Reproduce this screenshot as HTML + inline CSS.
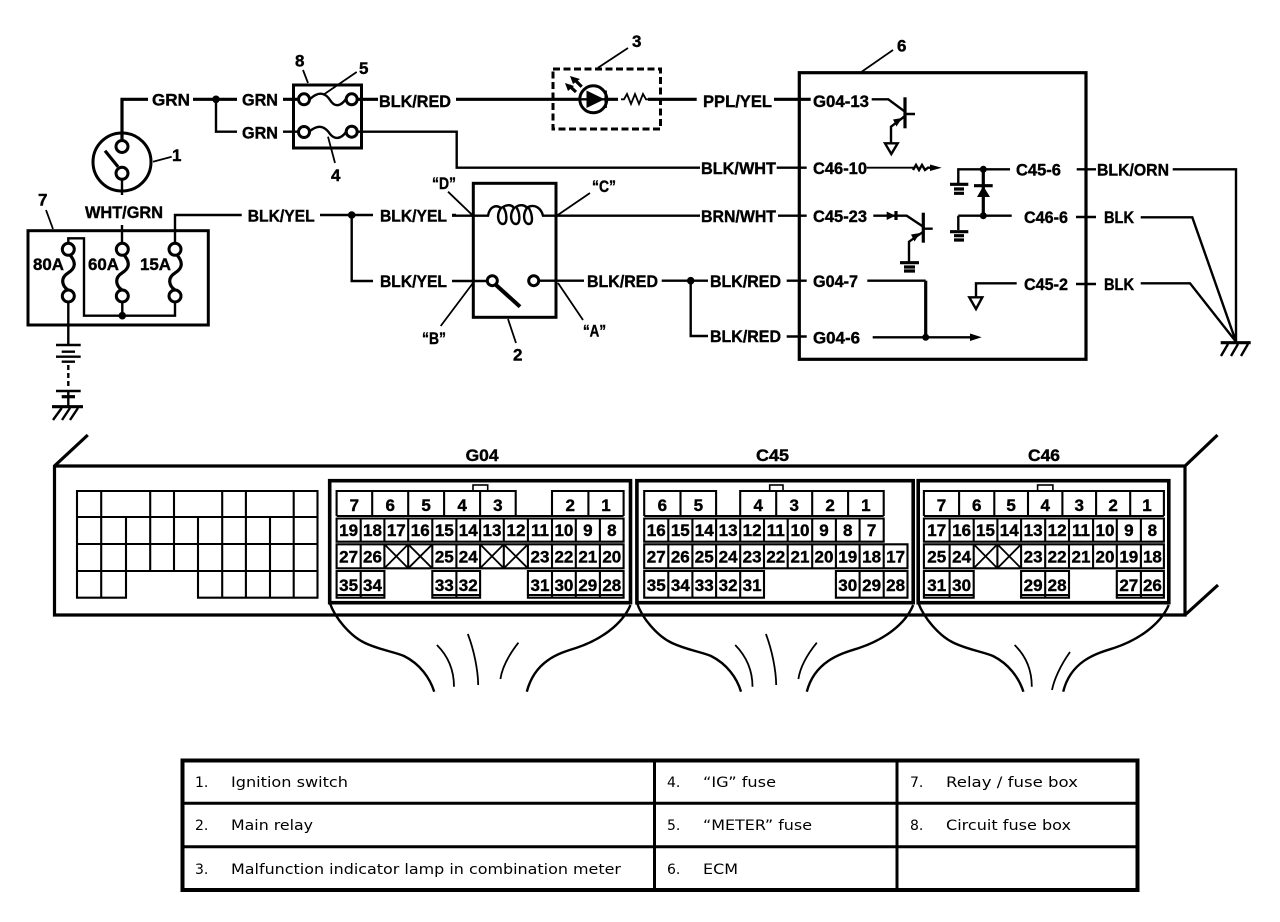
<!DOCTYPE html>
<html><head><meta charset="utf-8"><style>
html,body{margin:0;padding:0;background:#fff}
svg{display:block}
text{font-family:"Liberation Sans",Arial,Helvetica,sans-serif;font-weight:700;font-size:17px;fill:#000;stroke:#000;stroke-width:.4}
.n{text-anchor:middle}
.t{font-family:"DejaVu Sans",sans-serif;font-weight:400;font-size:14px;stroke:none}
.w{fill:none;stroke:#000;stroke-width:2.4}
.h{fill:none;stroke:#000;stroke-width:3.2}
.l{fill:none;stroke:#000;stroke-width:1.8}
.g{fill:none;stroke:#000;stroke-width:2.1}
.c{fill:#fff;stroke:#000;stroke-width:3}
.b{fill:#000;stroke:none}
</style></head><body>
<svg width="1280" height="922" viewBox="0 0 1280 922" xmlns="http://www.w3.org/2000/svg">
<rect width="1280" height="922" fill="#fff"/>

<!-- ignition switch -->
<circle cx="122" cy="162" r="29" fill="#fff" stroke="#000" stroke-width="3"/>
<path class="h" d="M122 141V99.3H148M193 99.3H237M283 99.3H298"/>
<path class="w" d="M216 99.3V131.7H237M283 131.7H298"/>
<circle class="b" cx="216" cy="99.3" r="3.8"/>
<circle class="c" cx="122" cy="146.5" r="6"/>
<circle class="c" cx="122" cy="173.3" r="6"/>
<path class="h" d="M105 150.7L118 166.7"/>
<path class="w" d="M122 179.5V195M122 225V243"/>
<path class="l" d="M171.7 156.7L153 161.7"/>
<text x="172" y="161">1</text>
<text x="152" y="105.5" textLength="38" lengthAdjust="spacingAndGlyphs">GRN</text>
<text x="242" y="105.5" textLength="36" lengthAdjust="spacingAndGlyphs">GRN</text>
<text x="242" y="138.5" textLength="36" lengthAdjust="spacingAndGlyphs">GRN</text>
<text x="85" y="218" textLength="78" lengthAdjust="spacingAndGlyphs">WHT/GRN</text>

<!-- fuse box 8 -->
<rect x="293.5" y="85" width="68" height="63" fill="none" stroke="#000" stroke-width="3"/>
<circle class="c" cx="304" cy="99.3" r="5.5"/>
<circle class="c" cx="351.7" cy="99.3" r="5.5"/>
<circle class="c" cx="304" cy="132" r="5.5"/>
<circle class="c" cx="351.7" cy="131.7" r="5.5"/>
<path class="w" d="M310 99C320 90 326 94 330 100C335 108 341 106 346 99"/>
<path class="w" d="M310 131C320 123 326 128 330 134C335 140 341 139 346 132"/>
<path class="l" d="M303 70L308 83M356.7 72L323 95M335 163L328 136.7"/>
<text x="295" y="66.5">8</text>
<text x="359" y="74">5</text>
<text x="331" y="181">4</text>
<path class="h" d="M357 99.3H378M456 99.3H587M608 99.3H618M648 99.3H696.7"/>
<path class="w" d="M357 131.7H456.7V167.7H700"/>
<text x="379" y="107" textLength="72" lengthAdjust="spacingAndGlyphs">BLK/RED</text>

<!-- lamp 3 -->
<rect x="553" y="69" width="107.5" height="60" fill="none" stroke="#000" stroke-width="3" stroke-dasharray="7 3.5"/>
<circle cx="593.3" cy="99.3" r="13.5" fill="#fff" stroke="#000" stroke-width="3"/>
<path class="b" d="M586.5 90.5L604.5 99.3L586.5 108Z"/>
<path class="w" stroke-width="3" d="M605.7 90.5V108M580 99.3H606"/>
<path class="h" d="M581.7 86.7L575 80M576 92L569 85.5"/>
<path class="b" d="M570 76L580 79L573 84ZM565 83L574 86L568 91Z"/>
<path class="l" d="M621 99.3L624 99.3L627 94L631 104L635 94L639 104L643 94L646 99.3L648 99.3"/>
<path class="l" d="M628 48L598 67.7"/>
<text x="632" y="47">3</text>
<text x="703" y="107" textLength="69" lengthAdjust="spacingAndGlyphs">PPL/YEL</text>
<path class="h" d="M774 99.3H810.7"/>
<path class="w" d="M776.7 167.7H806.7M778 215.7H806.7M786.7 280.7H806.7M786.7 336.5H806.7"/>
<text x="701" y="174" textLength="75" lengthAdjust="spacingAndGlyphs">BLK/WHT</text>
<text x="701" y="222" textLength="75" lengthAdjust="spacingAndGlyphs">BRN/WHT</text>

<!-- ECM 6 -->
<rect x="799.3" y="72.7" width="286.7" height="286.6" fill="none" stroke="#000" stroke-width="3.2"/>
<path class="l" d="M893 50L861.7 71.7"/>
<text x="897" y="51.5">6</text>
<text x="813" y="107" textLength="56" lengthAdjust="spacingAndGlyphs">G04-13</text>
<text x="813" y="174" textLength="54" lengthAdjust="spacingAndGlyphs">C46-10</text>
<text x="813" y="222" textLength="54" lengthAdjust="spacingAndGlyphs">C45-23</text>
<text x="813" y="287" textLength="45" lengthAdjust="spacingAndGlyphs">G04-7</text>
<text x="813" y="343.5" textLength="47" lengthAdjust="spacingAndGlyphs">G04-6</text>
<text x="1016" y="175.5" textLength="45" lengthAdjust="spacingAndGlyphs">C45-6</text>
<text x="1024" y="223" textLength="44" lengthAdjust="spacingAndGlyphs">C46-6</text>
<text x="1024" y="290" textLength="44" lengthAdjust="spacingAndGlyphs">C45-2</text>
<text x="1097" y="175.5" textLength="72" lengthAdjust="spacingAndGlyphs">BLK/ORN</text>
<text x="1104" y="223" textLength="30" lengthAdjust="spacingAndGlyphs">BLK</text>
<text x="1104" y="290" textLength="30" lengthAdjust="spacingAndGlyphs">BLK</text>
<path class="w" d="M1076.7 169.3H1096M1076 217H1096M1076 284H1096"/>
<path class="w" d="M1172.7 169.3H1236V341.7M1140.7 217.3H1192.3L1236 341.7M1140.7 283.3H1190L1236 341.7"/>
<path class="h" d="M1220.7 342.7H1250.7"/>
<path class="w" d="M1228 344L1221 356M1238 344L1231 356M1248 344L1241 356"/>

<!-- transistor 1 -->
<path class="w" d="M871.7 99.3H888.3L905 111.7M915 114H905M905 116L891 126.7V143.3"/>
<path class="h" d="M905 97.3V128.3"/>
<path class="b" d="M893 119.5L902 118L896.5 126.5Z"/>
<path class="w" d="M885 143.3H897.7L891.3 154Z"/>
<!-- C46-10 -->
<path class="l" d="M866.7 167.7H914"/>
<path class="w" d="M913 170L916 165L919 170L922 165L925 170L928 167.7H933"/>
<path class="b" d="M930 164.5L941.7 167.7L930 171Z"/>
<!-- zener -->
<path class="w" d="M958.3 183.3V169.3H1010M958.3 215.7V230M958.3 215.7H1011.7"/>
<path class="h" d="M983.3 169.3V215.7M974 185.7H992.7"/>
<path class="b" d="M983.3 186L990 197H977Z"/>
<circle class="b" cx="983.3" cy="169.3" r="3.5"/>
<circle class="b" cx="983.3" cy="215.7" r="3.5"/>
<path class="h" d="M950 184.3H968.3M954 189H964M954 193.3H964M950 231.7H968.3M954 235.7H964M954 240H964"/>
<!-- transistor 2 -->
<path class="w" d="M873.3 215.7H906.7L923.3 226.7M932.7 228.7H923.3M923.3 231.7L909 241.7V261.7"/>
<path class="h" d="M923.3 212.7V242.7"/>
<path class="b" d="M911 234.5L920 233L914.5 241.5ZM886.7 211.5L895.5 215.7L886.7 220Z"/>
<path class="h" d="M896 211V220"/>
<path class="h" d="M900 262.7H919M904 267H915M904 271H915"/>
<!-- G04-7 / G04-6 -->
<path class="h" d="M925.7 280.7V337.3"/>
<path class="w" d="M867.3 280.7H925.7M872.7 337.3H972"/>
<circle class="b" cx="925.7" cy="337.3" r="3.5"/>
<path class="b" d="M970 333.5L981.7 337.3L970 341Z"/>
<!-- C45-2 -->
<path class="w" d="M1016.7 283.3H976V297.3M969.3 297.3H982.3L976 309Z"/>

<!-- relay 2 -->
<rect x="473.3" y="183.3" width="82.7" height="134" fill="none" stroke="#000" stroke-width="3"/>
<path class="w" d="M452 215.7H488C490 205 497 205 501 208C496 215 498 224 503 224C508 224 507 212 503 207C508 204 512 205 514 208C509 215 511 224 516 224C521 224 520 212 516 207C520 204 525 205 527 208C522 215 524 224 529 224C534 224 532 212 528 207C535 204 541 208 543 215.7H700"/>
<path class="w" d="M452 281H487M539 280.7H584M661.7 280.7H708M690.7 280.7V336H708"/>
<circle class="b" cx="690.7" cy="280.7" r="3.8"/>
<circle class="c" cx="492.3" cy="280.7" r="5"/>
<circle class="c" cx="533.7" cy="280.7" r="5"/>
<path d="M496 285L520 306.7" fill="none" stroke="#000" stroke-width="4"/>
<path class="l" d="M448 191.7L473 215.7M590 193L556.7 215.7M440.7 326L473 283M583 320L558 283M508 319L516 343"/>
<text x="432" y="189" textLength="24" lengthAdjust="spacingAndGlyphs">“D”</text>
<text x="592" y="192" textLength="24" lengthAdjust="spacingAndGlyphs">“C”</text>
<text x="422" y="344" textLength="24" lengthAdjust="spacingAndGlyphs">“B”</text>
<text x="583" y="336.5" textLength="23" lengthAdjust="spacingAndGlyphs">“A”</text>
<text x="513" y="360.5">2</text>
<text x="587" y="287" textLength="71" lengthAdjust="spacingAndGlyphs">BLK/RED</text>
<text x="710" y="287" textLength="71" lengthAdjust="spacingAndGlyphs">BLK/RED</text>
<text x="710" y="342" textLength="71" lengthAdjust="spacingAndGlyphs">BLK/RED</text>

<!-- fuse box 7 -->
<rect x="28" y="230.7" width="180.3" height="94.3" fill="none" stroke="#000" stroke-width="3"/>
<path class="l" d="M46 210L53 229"/>
<text x="38" y="205.5">7</text>
<path class="w" d="M68.3 243V238.3H84V315.7H175V302M122.3 302V315.7M175 243V215H241.7M320 215H373M351.7 215V281H373M452 215H456M68.3 302V345"/>
<circle class="b" cx="122.3" cy="315.7" r="3.8"/>
<circle class="b" cx="351.7" cy="215" r="3.8"/>
<circle class="c" cx="68.3" cy="249.3" r="6"/>
<circle class="c" cx="68.3" cy="296" r="6"/>
<circle class="c" cx="122.3" cy="249.3" r="6"/>
<circle class="c" cx="122.3" cy="296" r="6"/>
<circle class="c" cx="175" cy="249.3" r="6"/>
<circle class="c" cx="175" cy="296" r="6"/>
<path class="h" d="M70 255C76 262 76 268 68 273C60 278 62 286 68 290"/>
<path class="h" d="M124 255C130 262 130 268 122 273C114 278 116 286 122 290"/>
<path class="h" d="M177 255C183 262 183 268 175 273C167 278 169 286 175 290"/>
<text x="33" y="270" textLength="31" lengthAdjust="spacingAndGlyphs">80A</text>
<text x="88" y="270" textLength="31" lengthAdjust="spacingAndGlyphs">60A</text>
<text x="140" y="270" textLength="31" lengthAdjust="spacingAndGlyphs">15A</text>
<text x="247.7" y="221.5" textLength="67" lengthAdjust="spacingAndGlyphs">BLK/YEL</text>
<text x="380" y="221.5" textLength="67" lengthAdjust="spacingAndGlyphs">BLK/YEL</text>
<text x="380" y="287" textLength="67" lengthAdjust="spacingAndGlyphs">BLK/YEL</text>

<!-- battery -->
<path class="w" d="M56 345H80.7M61.7 351.7H75M56 356.7H80.7M61.7 361.7H75M56 391H80.7"/>
<path class="h" d="M61.7 396.7H75"/>
<path class="w" d="M68.3 365V387" stroke-dasharray="5 3"/>
<path class="w" d="M68.3 391V406.7"/>
<path class="h" d="M52 406.7H83"/>
<path class="w" d="M61.7 408L53 420M70 408L62 420M78 408L70 420"/>

<!-- ECU body -->
<path class="h" d="M87.8 435L54.5 466V615H1185V466H54.5M1185 466L1217.5 435M1185 615L1218 585"/>
<text x="465.6" y="461" textLength="33" lengthAdjust="spacingAndGlyphs">G04</text>
<text x="756" y="461" textLength="33" lengthAdjust="spacingAndGlyphs">C45</text>
<text x="1028" y="461" textLength="32" lengthAdjust="spacingAndGlyphs">C46</text>

<!-- left blank grid -->
<path class="g" stroke-width="2.4" d="M77 491H317.5V597.7H198V571H126V597.7H77ZM77 517H317.5M77 544H317.5M77 571H317.5M101.2 491V597.7M150.2 491V571M174 491V571M222.2 491V597.7M245.9 491V597.7M293.7 491V597.7M126 517V571M198 517V571M270 517V597.7"/>

<!-- G04 -->
<rect x="329.7" y="480.7" width="300.8" height="122" fill="none" stroke="#000" stroke-width="3.6"/>
<rect x="473" y="485" width="14.7" height="6" fill="none" stroke="#000" stroke-width="1.6"/>
<path class="g" d="M336.6 516V491H515.7V516M372.2 491V516M408.2 491V516M444.1 491V516M480.1 491V516M552 516V491H623.6V516M588.4 491V516M336.6 516H623.6M336.6 518.5H623.6V541.7H336.6ZM360.7 518.5V541.7M384.4 518.5V541.7M408.2 518.5V541.7M432.3 518.5V541.7M456.4 518.5V541.7M480.1 518.5V541.7M503.8 518.5V541.7M527.9 518.5V541.7M552 518.5V541.7M575.8 518.5V541.7M599.9 518.5V541.7"/>
<path class="g" d="M336.6 544.3H623.6V568.3H336.6ZM360.7 544.3V568.3M384.4 544.3V568.3M408.2 544.3V568.3M432.3 544.3V568.3M456.4 544.3V568.3M480.1 544.3V568.3M503.8 544.3V568.3M527.9 544.3V568.3M552 544.3V568.3M575.8 544.3V568.3M599.9 544.3V568.3"/>
<path class="l" d="M384.4 568.3L408.2 544.3M384.4 544.3L408.2 568.3M408.2 568.3L432.3 544.3M408.2 544.3L432.3 568.3M480.1 568.3L503.8 544.3M480.1 544.3L503.8 568.3M503.8 568.3L527.9 544.3M503.8 544.3L527.9 568.3"/>
<path class="g" d="M336.6 571H384.4V597.7H336.6ZM360.7 571V597.7M336.6 595H384.4M432.3 571H480.1V597.7H432.3ZM456.4 571V597.7M432.3 595H480.1M527.9 571H623.6V597.7H527.9ZM552 571V597.7M575.8 571V597.7M599.9 571V597.7M527.9 595H623.6"/>
<text class="n" x="354.4" y="511">7</text><text class="n" x="390.2" y="511">6</text><text class="n" x="426.1" y="511">5</text><text class="n" x="462.1" y="511">4</text><text class="n" x="497.9" y="511">3</text><text class="n" x="570.2" y="511">2</text><text class="n" x="606" y="511">1</text>
<text class="n" x="348.6" y="536">19</text><text class="n" x="372.5" y="536">18</text><text class="n" x="396.3" y="536">17</text><text class="n" x="420.2" y="536">16</text><text class="n" x="444.3" y="536">15</text><text class="n" x="468.2" y="536">14</text><text class="n" x="492" y="536">13</text><text class="n" x="516" y="536">12</text><text class="n" x="540" y="536">11</text><text class="n" x="563.9" y="536">10</text><text class="n" x="587.8" y="536">9</text><text class="n" x="611.8" y="536">8</text>
<text class="n" x="348.6" y="562.5">27</text><text class="n" x="372.5" y="562.5">26</text><text class="n" x="444.3" y="562.5">25</text><text class="n" x="468.2" y="562.5">24</text><text class="n" x="540" y="562.5">23</text><text class="n" x="563.9" y="562.5">22</text><text class="n" x="587.8" y="562.5">21</text><text class="n" x="611.8" y="562.5">20</text>
<text class="n" x="348.6" y="591">35</text><text class="n" x="372.5" y="591">34</text><text class="n" x="444.3" y="591">33</text><text class="n" x="468.2" y="591">32</text><text class="n" x="540" y="591">31</text><text class="n" x="563.9" y="591">30</text><text class="n" x="587.8" y="591">29</text><text class="n" x="611.8" y="591">28</text>

<!-- C45 -->
<rect x="636.9" y="480.7" width="276.3" height="122" fill="none" stroke="#000" stroke-width="3.6"/>
<rect x="769.7" y="485" width="13.3" height="6" fill="none" stroke="#000" stroke-width="1.6"/>
<path class="g" d="M644.2 516V491H716.1V516M680.5 491V516M740.2 516V491H883.7V516M776.2 491V516M812.2 491V516M848.1 491V516M644.2 516H883.7M644.2 518.5H883.7V541.7H644.2ZM668.3 518.5V541.7M692.4 518.5V541.7M716.1 518.5V541.7M740.2 518.5V541.7M764 518.5V541.7M787.7 518.5V541.7M812.2 518.5V541.7M835.9 518.5V541.7M859.6 518.5V541.7"/>
<path class="g" d="M644.2 544.3H907.5V568.3H644.2ZM668.3 544.3V568.3M692.4 544.3V568.3M716.1 544.3V568.3M740.2 544.3V568.3M764 544.3V568.3M787.7 544.3V568.3M812.2 544.3V568.3M835.9 544.3V568.3M859.6 544.3V568.3M883.7 544.3V568.3"/>
<path class="g" d="M644.2 571H764V597.7H644.2ZM668.3 571V597.7M692.4 571V597.7M716.1 571V597.7M740.2 571V597.7M835.9 571H907.5V597.7H835.9ZM859.6 571V597.7M883.7 571V597.7"/>
<text class="n" x="662.3" y="511">6</text><text class="n" x="698.3" y="511">5</text><text class="n" x="758.2" y="511">4</text><text class="n" x="794.2" y="511">3</text><text class="n" x="830.1" y="511">2</text><text class="n" x="865.9" y="511">1</text>
<text class="n" x="656.2" y="536">16</text><text class="n" x="680.3" y="536">15</text><text class="n" x="704.2" y="536">14</text><text class="n" x="728.1" y="536">13</text><text class="n" x="752.1" y="536">12</text><text class="n" x="775.8" y="536">11</text><text class="n" x="800" y="536">10</text><text class="n" x="824" y="536">9</text><text class="n" x="847.7" y="536">8</text><text class="n" x="871.6" y="536">7</text>
<text class="n" x="656.2" y="562.5">27</text><text class="n" x="680.3" y="562.5">26</text><text class="n" x="704.2" y="562.5">25</text><text class="n" x="728.1" y="562.5">24</text><text class="n" x="752.1" y="562.5">23</text><text class="n" x="775.8" y="562.5">22</text><text class="n" x="800" y="562.5">21</text><text class="n" x="824" y="562.5">20</text><text class="n" x="847.7" y="562.5">19</text><text class="n" x="871.6" y="562.5">18</text><text class="n" x="895.6" y="562.5">17</text>
<text class="n" x="656.2" y="591">35</text><text class="n" x="680.3" y="591">34</text><text class="n" x="704.2" y="591">33</text><text class="n" x="728.1" y="591">32</text><text class="n" x="752.1" y="591">31</text><text class="n" x="847.7" y="591">30</text><text class="n" x="871.6" y="591">29</text><text class="n" x="895.6" y="591">28</text>

<!-- C46 -->
<rect x="918.2" y="480.7" width="250.6" height="122" fill="none" stroke="#000" stroke-width="3.6"/>
<rect x="1037.6" y="485" width="15.3" height="6" fill="none" stroke="#000" stroke-width="1.6"/>
<path class="g" d="M923.9 516V491H1163.9V516M959.1 491V516M994.3 491V516M1028 491V516M1062.4 491V516M1096.1 491V516M1130.2 491V516M923.9 516H1163.9M923.9 518.5H1163.9V541.7H923.9ZM949.6 518.5V541.7M973.7 518.5V541.7M997.4 518.5V541.7M1021.1 518.5V541.7M1045.2 518.5V541.7M1069 518.5V541.7M1093.1 518.5V541.7M1116.8 518.5V541.7M1140.9 518.5V541.7"/>
<path class="g" d="M923.9 544.3H1163.9V568.3H923.9ZM949.6 544.3V568.3M973.7 544.3V568.3M997.4 544.3V568.3M1021.1 544.3V568.3M1045.2 544.3V568.3M1069 544.3V568.3M1093.1 544.3V568.3M1116.8 544.3V568.3M1140.9 544.3V568.3"/>
<path class="l" d="M973.7 568.3L997.4 544.3M973.7 544.3L997.4 568.3M997.4 568.3L1021.1 544.3M997.4 544.3L1021.1 568.3"/>
<path class="g" d="M923.9 571H973.7V597.7H923.9ZM949.6 571V597.7M923.9 595H973.7M1021.1 571H1069V597.7H1021.1ZM1045.2 571V597.7M1021.1 595H1069M1116.8 571H1163.9V597.7H1116.8ZM1140.9 571V597.7M1116.8 595H1163.9"/>
<text class="n" x="941.5" y="511">7</text><text class="n" x="976.7" y="511">6</text><text class="n" x="1011.1" y="511">5</text><text class="n" x="1045.2" y="511">4</text><text class="n" x="1079.2" y="511">3</text><text class="n" x="1113.1" y="511">2</text><text class="n" x="1147" y="511">1</text>
<text class="n" x="936.7" y="536">17</text><text class="n" x="961.6" y="536">16</text><text class="n" x="985.5" y="536">15</text><text class="n" x="1009.2" y="536">14</text><text class="n" x="1033.1" y="536">13</text><text class="n" x="1057.1" y="536">12</text><text class="n" x="1081" y="536">11</text><text class="n" x="1105" y="536">10</text><text class="n" x="1128.8" y="536">9</text><text class="n" x="1152.4" y="536">8</text>
<text class="n" x="936.7" y="562.5">25</text><text class="n" x="961.6" y="562.5">24</text><text class="n" x="1033.1" y="562.5">23</text><text class="n" x="1057.1" y="562.5">22</text><text class="n" x="1081" y="562.5">21</text><text class="n" x="1105" y="562.5">20</text><text class="n" x="1128.8" y="562.5">19</text><text class="n" x="1152.4" y="562.5">18</text>
<text class="n" x="936.7" y="591">31</text><text class="n" x="961.6" y="591">30</text><text class="n" x="1033.1" y="591">29</text><text class="n" x="1057.1" y="591">28</text><text class="n" x="1128.8" y="591">27</text><text class="n" x="1152.4" y="591">26</text>

<!-- harness curves -->
<path class="w" d="M329.7 602.7C335 618 350 636 365 643C380 650 395 652 404 656C420 664 430 678 434.2 691.7"/>
<path class="w" d="M630.5 605C622 625 600 640 576 648C560 653 535 660 526.8 691.7"/>
<path class="l" d="M436.9 645C448 656 454 670 454 686.7M467.8 634C474 650 478 670 478.2 685M518.4 642.7C508 656 502 668 500.4 679"/>
<path class="w" d="M636.9 602.7C642 618 657 636 672 643C687 650 702 652 711 656C727 664 737 678 741 691.7"/>
<path class="w" d="M913.2 605C905 625 883 640 859 648C843 653 815 660 806.8 691.7"/>
<path class="l" d="M735.2 645C746 656 752.5 670 752.5 686.7M765.9 634C772 650 776 670 776.2 685M816.8 642.7C806 656 800 668 798.4 679"/>
<path class="w" d="M918.2 602.7C924 618 939 636 954 643C969 650 984 652 993 656C1009 664 1019 678 1023.4 691.7"/>
<path class="w" d="M1168.8 605C1160 625 1138 640 1114 648C1098 653 1071 660 1063.2 691.7"/>
<path class="l" d="M1014.6 645C1026 656 1031.8 670 1031.8 686.7M1070 652C1060 666 1054 680 1052 690"/>

<!-- legend table -->
<rect x="182.5" y="760.5" width="955" height="129.5" fill="none" stroke="#000" stroke-width="4"/>
<path fill="none" stroke="#000" stroke-width="3" d="M654.5 760V890M897 760V890M182 803.3H1138M182 846.7H1138"/>
<text class="t" x="195" y="787">1.</text><text class="t" x="231" y="787" textLength="117" lengthAdjust="spacingAndGlyphs">Ignition switch</text>
<text class="t" x="667" y="787">4.</text><text class="t" x="703" y="787" textLength="73" lengthAdjust="spacingAndGlyphs">“IG” fuse</text>
<text class="t" x="910" y="787">7.</text><text class="t" x="946" y="787" textLength="132" lengthAdjust="spacingAndGlyphs">Relay / fuse box</text>
<text class="t" x="195" y="830">2.</text><text class="t" x="231" y="830" textLength="82" lengthAdjust="spacingAndGlyphs">Main relay</text>
<text class="t" x="667" y="830">5.</text><text class="t" x="703" y="830" textLength="109" lengthAdjust="spacingAndGlyphs">“METER” fuse</text>
<text class="t" x="910" y="830">8.</text><text class="t" x="946" y="830" textLength="125" lengthAdjust="spacingAndGlyphs">Circuit fuse box</text>
<text class="t" x="195" y="874">3.</text><text class="t" x="231" y="874" textLength="390" lengthAdjust="spacingAndGlyphs">Malfunction indicator lamp in combination meter</text>
<text class="t" x="667" y="874">6.</text><text class="t" x="703" y="874" textLength="35" lengthAdjust="spacingAndGlyphs">ECM</text>
</svg>
</body></html>
